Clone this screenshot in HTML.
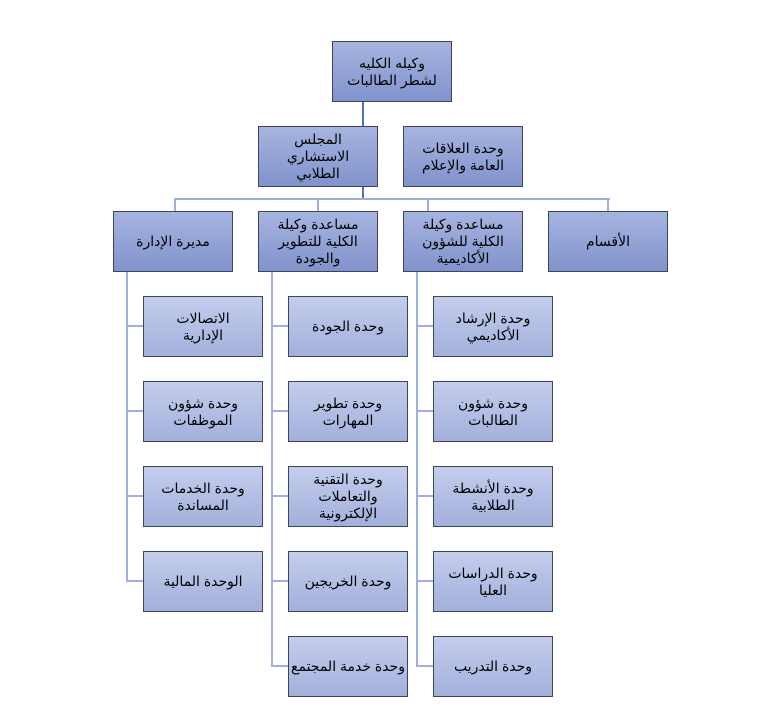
<!DOCTYPE html>
<html><head><meta charset="utf-8"><style>
body{margin:0;width:781px;height:708px;background:#fff;position:relative;overflow:hidden;font-family:"Liberation Sans","DejaVu Sans",sans-serif;}
.b{position:absolute;width:118px;height:59px;border:1px solid #40445a;background:linear-gradient(#a6b4df,#8193cd);display:flex;align-items:center;justify-content:center;text-align:center;direction:rtl;font-size:14px;line-height:17px;color:#000;box-sizing:content-box;}
.c{background:linear-gradient(#c4cdec,#a3b0dc);}
.l{position:absolute;background:#4f72c0;}
.h{height:2px}.v{width:2px}
.lc{background:#9fb0da}
</style></head><body>
<div class="l v" style="left:362px;top:102px;height:98px"></div>
<div class="l h" style="left:352px;top:156px;width:22px"></div>
<div class="l h lc" style="left:174px;top:198px;width:436px"></div>
<div class="l v lc" style="left:174px;top:198px;height:13px"></div>
<div class="l v lc" style="left:317px;top:198px;height:13px"></div>
<div class="l v lc" style="left:427px;top:198px;height:13px"></div>
<div class="l v lc" style="left:607px;top:198px;height:13px"></div>
<div class="l v lc" style="left:126px;top:271px;height:311px"></div>
<div class="l v lc" style="left:271px;top:271px;height:396px"></div>
<div class="l v lc" style="left:416px;top:271px;height:396px"></div>
<div class="l h lc" style="left:126px;top:325px;width:17px"></div>
<div class="l h lc" style="left:126px;top:410px;width:17px"></div>
<div class="l h lc" style="left:126px;top:495px;width:17px"></div>
<div class="l h lc" style="left:126px;top:580px;width:17px"></div>
<div class="l h lc" style="left:271px;top:325px;width:17px"></div>
<div class="l h lc" style="left:271px;top:410px;width:17px"></div>
<div class="l h lc" style="left:271px;top:495px;width:17px"></div>
<div class="l h lc" style="left:271px;top:580px;width:17px"></div>
<div class="l h lc" style="left:271px;top:665px;width:17px"></div>
<div class="l h lc" style="left:416px;top:325px;width:17px"></div>
<div class="l h lc" style="left:416px;top:410px;width:17px"></div>
<div class="l h lc" style="left:416px;top:495px;width:17px"></div>
<div class="l h lc" style="left:416px;top:580px;width:17px"></div>
<div class="l h lc" style="left:416px;top:665px;width:17px"></div>

<div class="b" style="left:332px;top:41px">وكيله الكليه<br>لشطر الطالبات</div>
<div class="b" style="left:258px;top:126px">المجلس<br>الاستشاري<br>الطلابي</div>
<div class="b" style="left:403px;top:126px">وحدة العلاقات<br>العامة والإعلام</div>
<div class="b" style="left:113px;top:211px">مديرة الإدارة</div>
<div class="b" style="left:258px;top:211px">مساعدة وكيلة<br>الكلية للتطوير<br>والجودة</div>
<div class="b" style="left:403px;top:211px">مساعدة وكيلة<br>الكلية للشؤون<br>الأكاديمية</div>
<div class="b" style="left:548px;top:211px">الأقسام</div>

<div class="b c" style="left:143px;top:296px">الاتصالات<br>الإدارية</div>
<div class="b c" style="left:143px;top:381px">وحدة شؤون<br>الموظفات</div>
<div class="b c" style="left:143px;top:466px">وحدة الخدمات<br>المساندة</div>
<div class="b c" style="left:143px;top:551px">الوحدة المالية</div>

<div class="b c" style="left:288px;top:296px">وحدة الجودة</div>
<div class="b c" style="left:288px;top:381px">وحدة تطوير<br>المهارات</div>
<div class="b c" style="left:288px;top:466px">وحدة التقنية<br>والتعاملات<br>الإلكترونية</div>
<div class="b c" style="left:288px;top:551px">وحدة الخريجين</div>
<div class="b c" style="left:288px;top:636px">وحدة خدمة المجتمع</div>

<div class="b c" style="left:433px;top:296px">وحدة الإرشاد<br>الأكاديمي</div>
<div class="b c" style="left:433px;top:381px">وحدة شؤون<br>الطالبات</div>
<div class="b c" style="left:433px;top:466px">وحدة الأنشطة<br>الطلابية</div>
<div class="b c" style="left:433px;top:551px">وحدة الدراسات<br>العليا</div>
<div class="b c" style="left:433px;top:636px">وحدة التدريب</div>
</body></html>
